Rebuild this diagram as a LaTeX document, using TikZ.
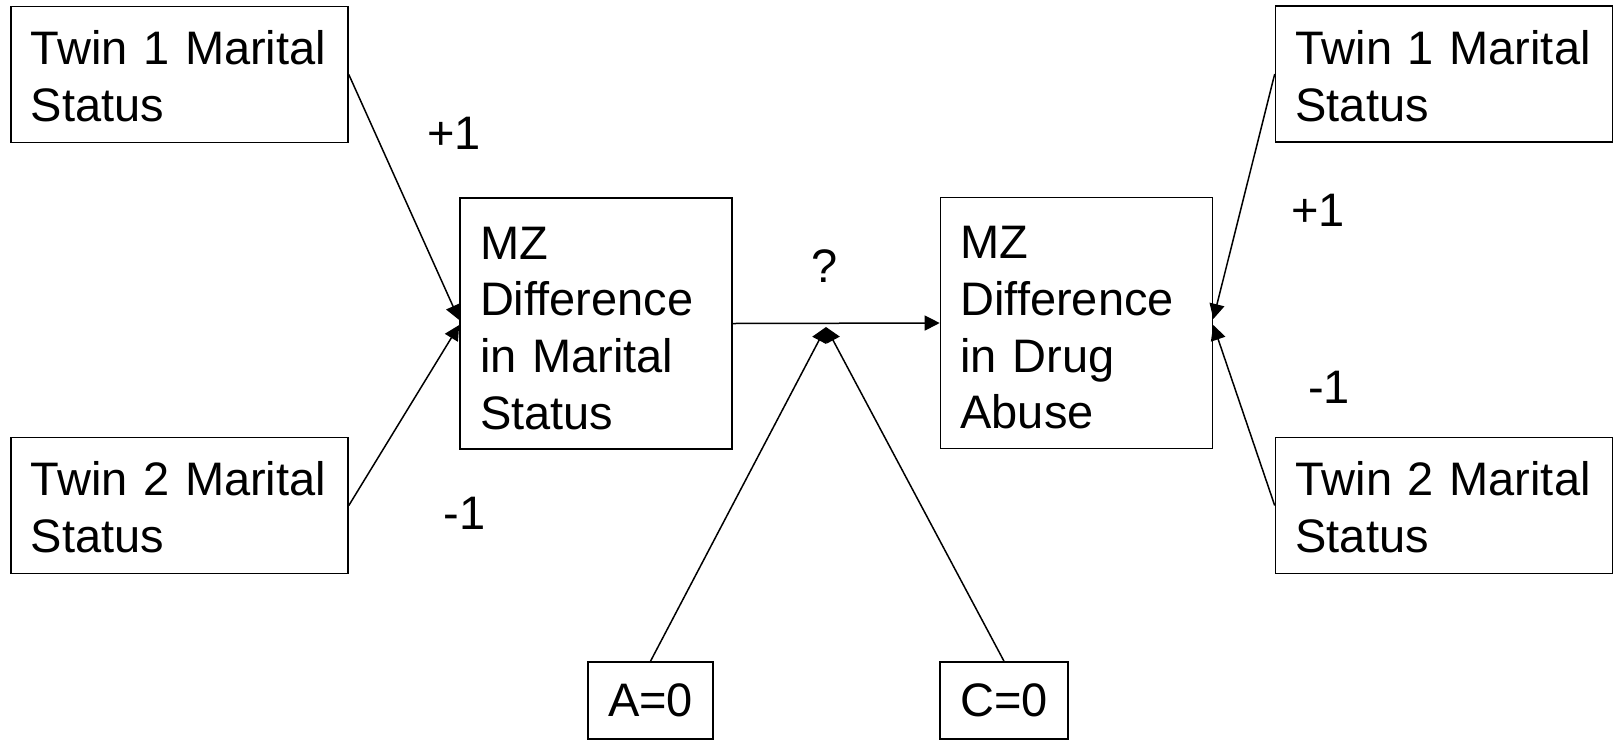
\documentclass[tikz,border=0pt]{standalone}
\usepackage{fontspec}
\setmainfont{Liberation Sans}
\usetikzlibrary{arrows.meta}

\tikzset{
  every node/.style={font=\fontsize{23.5}{28.4}\selectfont},
  box/.style={draw, line width=0.8pt, rectangle, inner xsep=10pt, inner ysep=0pt, align=left},
  twinbox/.style={box, text width=148.5pt, minimum width=168.5pt, minimum height=68pt,
    execute at begin node={\rule{0pt}{19pt}}},
  mzbox/.style={box, text width=116pt, minimum width=136pt, minimum height=125.5pt,
    execute at begin node={\rule{0pt}{21pt}}},
  fixbox/.style={draw, line width=0.8pt, rectangle, inner sep=0pt, minimum height=38.5pt, align=center},
  conn/.style={line width=0.75pt, -{Triangle[length=7.5pt,width=7.5pt]}},
  lbl/.style={inner sep=0pt}
}

\begin{document}
\begin{tikzpicture}[x=0.5pt, y=-0.5pt]
  \useasboundingbox (0,0) rectangle (1618,740);

  % twin boxes on the left
  \node[twinbox] (t1L) at (179.5,74.5) {Twin 1 Marital\\Status};
  \node[twinbox] (t2L) at (179.5,505.5) {Twin 2 Marital\\Status};

  % difference boxes
  \node[mzbox] (mzM) at (596,323.5) {MZ\\Difference\\in Marital\\Status};
  \node[mzbox] (mzD) at (1076.5,323) {MZ\\Difference\\in Drug\\Abuse};

  % twin boxes on the right
  \node[twinbox] (t1R) at (1444,74) {Twin 1 Marital\\Status};
  \node[twinbox] (t2R) at (1444,505.5) {Twin 2 Marital\\Status};

  % fixed variance components
  \node[fixbox, minimum width=62.5pt] (A) at (650.5,700.5) {A=0};
  \node[fixbox, minimum width=64pt] (C) at (1004,700.5) {C=0};

  % meeting point of the moderator paths
  \coordinate (j) at (826,327);

  % paths
  \draw[conn] (t1L.east) -- ([yshift=1.75pt]mzM.west);
  \draw[conn] (t2L.east) -- ([yshift=-0.75pt]mzM.west);
  \draw[conn] (mzM.east) -- (mzD.west);
  \draw[conn] (A.north) -- (j);
  \draw[conn] (C.north) -- (j);
  \draw[conn] (t1R.west) -- ([yshift=2pt]mzD.east);
  \draw[conn] (t2R.west) -- ([yshift=-1pt]mzD.east);

  % path coefficients
  \node[lbl] (lp1) at (454,133) {+1};
  \node[lbl] (lm1) at (464.5,513) {-1};
  \node[lbl] (q)   at (824.5,266) {?};
  \node[lbl] (rp1) at (1318,210.5) {+1};
  \node[lbl] (rm1) at (1329,387) {-1};
\end{tikzpicture}
\end{document}
